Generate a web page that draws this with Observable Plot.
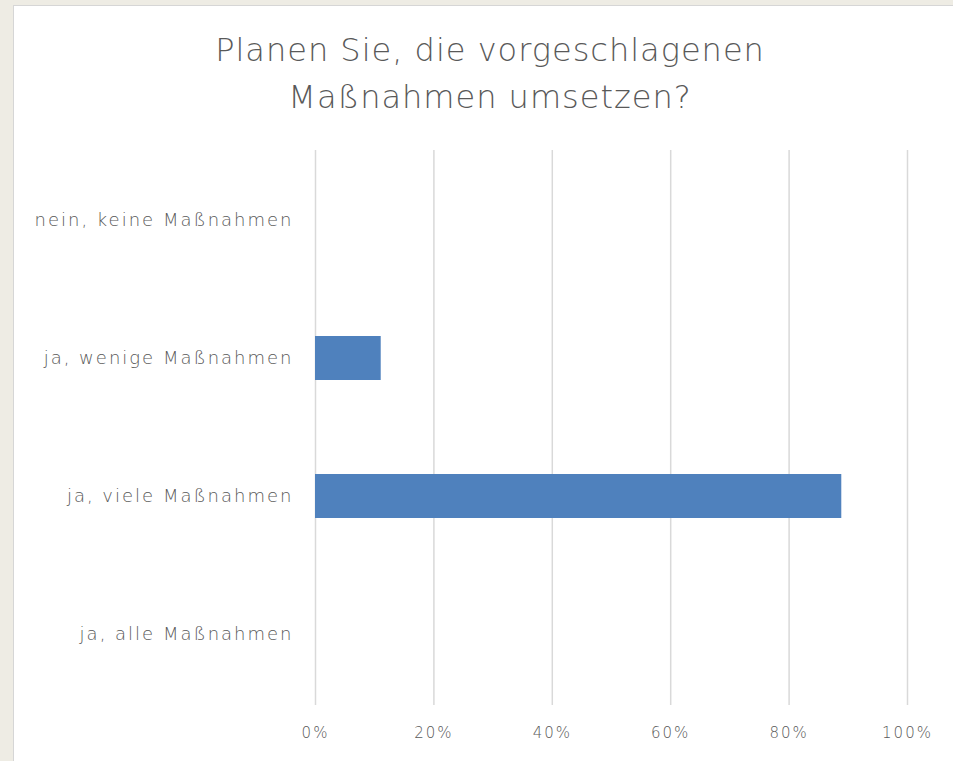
<!DOCTYPE html>
<html>
<head>
<meta charset="utf-8">
<script src="https://cdn.jsdelivr.net/npm/d3@7"></script>
<script src="https://cdn.jsdelivr.net/npm/@observablehq/plot@0.6"></script>
<style>
  html, body { margin: 0; padding: 0; background: #eeece4; overflow: hidden; }
  #panel { position: absolute; left: 13px; top: 5px; width: 960px; height: 780px; background: #fff; border: 1px solid #d6d6d6; }
  #title { height: 130px; width: 952px; text-align: center; font-family: "DejaVu Sans", sans-serif; font-weight: 200; font-size: 32px; line-height: 47px; color: #595959; padding-top: 21px; box-sizing: border-box; letter-spacing: 1px; }
</style>
</head>
<body>
<div id="panel">
  <div id="title">Planen Sie, die vorgeschlagenen<br>Maßnahmen umsetzen?</div>
  <div id="chart"></div>
</div>
<script>
const categories = ["nein, keine Maßnahmen", "ja, wenige Maßnahmen", "ja, viele Maßnahmen", "ja, alle Maßnahmen"];
const values = [0, 11.1, 88.9, 0];
const xTicks = [0, 20, 40, 60, 80, 100];

const data = categories.map((c, i) => ({category: c, value: values[i]}));

const chart = Plot.plot({
  width: 939,
  height: 620,
  marginLeft: 301,
  marginRight: 46,
  marginTop: 14,
  marginBottom: 51,
  style: {fontFamily: "'DejaVu Sans', sans-serif", fontWeight: 200, fontSize: "17px", color: "#595959", background: "transparent", letterSpacing: "2px"},
  x: {domain: [0, 100]},
  y: {domain: categories, paddingInner: 0.68, paddingOuter: 0.34},
  marks: [
    Plot.gridX(xTicks, {stroke: "#d9d9d9", strokeOpacity: 1, strokeWidth: 1.5}),
    Plot.barX(data, {x1: 0, x2: "value", y: "category", fill: "#4f81bd"}),
    Plot.axisX({ticks: xTicks, tickFormat: d => d + "%", tickSize: 0, tickPadding: 22, label: null, fontSize: 15}),
    Plot.axisY({tickSize: 0, tickPadding: 22, label: null, fontSize: 18})
  ]
});
document.getElementById("chart").appendChild(chart);
</script>
</body>
</html>
